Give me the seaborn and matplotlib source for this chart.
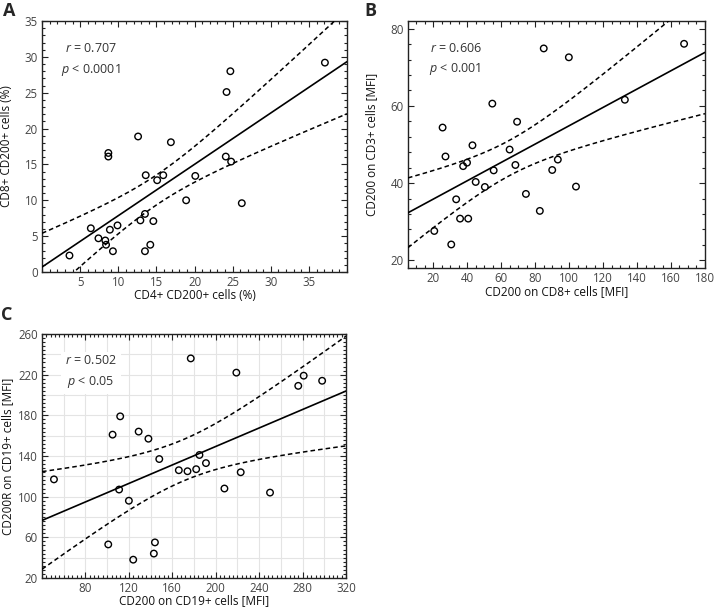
import numpy as np
import matplotlib
matplotlib.use("Agg")
import matplotlib.pyplot as plt
from matplotlib.ticker import MultipleLocator
import seaborn as sns

# panel A: CD4+ CD200+ vs CD8+ CD200+ (%)
a_x = [3.6, 6.4, 7.4, 8.3, 8.4, 8.9, 8.7, 8.7, 9.3, 9.9, 12.6, 12.9, 13.5, 13.5,
       13.6, 14.2, 14.6, 15.1, 15.9, 16.9, 18.9, 20.1, 24.2, 24.7, 24.1, 24.8, 26.2, 37.1]
a_y = [2.3, 6.1, 4.7, 4.4, 3.8, 5.9, 16.6, 16.1, 2.9, 6.5, 18.9, 7.2, 8.1, 2.9,
       13.5, 3.8, 7.1, 12.8, 13.5, 18.1, 10.0, 13.4, 25.1, 28.0, 16.1, 15.4, 9.6, 29.2]

# panel B: CD200 on CD8+ vs CD200 on CD3+ (MFI)
b_x = [20.5, 25.4, 27.1, 30.5, 33.4, 35.7, 37.5, 39.8, 40.5, 43.0, 44.9, 50.3, 54.7,
       55.5, 64.9, 68.3, 69.3, 74.5, 82.7, 85.0, 90.0, 93.3, 99.8, 104.0, 132.8, 167.7]
b_y = [27.6, 54.4, 46.9, 24.1, 35.8, 30.8, 44.4, 45.3, 30.8, 49.8, 40.3, 39.0, 60.6,
       43.3, 48.7, 44.7, 55.9, 37.2, 32.8, 74.9, 43.4, 46.1, 72.6, 39.1, 61.6, 76.1]

# panel C: CD200 on CD19+ vs CD200R on CD19+ (MFI)
c_x = [51, 101, 105, 111, 112, 120, 124, 129, 138, 143, 144, 148, 166, 174, 177,
       182, 185, 191, 208, 219, 223, 250, 276, 281, 298]
c_y = [117, 53, 161, 107, 179, 96, 38, 164, 157, 44, 55, 137, 126, 125, 236,
       127, 141, 133, 108, 222, 124, 104, 209, 219, 214]

labels_x = ["CD4+ CD200+ cells (%)", "CD200 on CD8+ cells [MFI]", "CD200 on CD19+ cells [MFI]"]
labels_y = ["CD8+ CD200+ cells (%)", "CD200 on CD3+ cells [MFI]", "CD200R on CD19+ cells [MFI]"]
stats = [("0.707", "0.0001"), ("0.606", "0.001"), ("0.502", "0.05")]

sns.set_theme(style="ticks")
plt.rcParams['font.family'] = ['Open Sans', 'DejaVu Sans']
plt.rcParams['mathtext.fontset'] = 'custom'
plt.rcParams['mathtext.it'] = 'Open Sans:italic'
plt.rcParams['mathtext.rm'] = 'Open Sans'

fig = plt.figure(figsize=(7.17, 6.15), dpi=100)
axA = fig.add_axes([0.0586, 0.5577, 0.4254, 0.4081])
axB = fig.add_axes([0.569, 0.5642, 0.4142, 0.4016])
axC = fig.add_axes([0.0586, 0.0602, 0.424, 0.3967])


def fit_band(ax, x, y, lo, hi):
    x = np.asarray(x, float)
    y = np.asarray(y, float)
    n = len(x)
    b, a = np.polyfit(x, y, 1)
    resid = y - (a + b * x)
    s = np.sqrt(np.sum(resid ** 2) / (n - 2))
    sxx = np.sum((x - x.mean()) ** 2)
    xs = np.linspace(lo, hi, 200)
    ys = a + b * xs
    t = 2.05 if n < 30 else 2.0
    half = t * s * np.sqrt(1.0 / n + (xs - x.mean()) ** 2 / sxx)
    ax.plot(xs, ys, color='black', lw=1.2, zorder=3)
    ax.plot(xs, ys + half, color='black', lw=1.1, ls=(0, (3, 2)), zorder=3)
    ax.plot(xs, ys - half, color='black', lw=1.1, ls=(0, (3, 2)), zorder=3)


panels = [
    (axA, a_x, a_y, (0, 40), (0, 35), 1, 1, np.arange(5, 36, 5), np.arange(0, 36, 5)),
    (axB, b_x, b_y, (5, 180), (18, 82), 5, 4, np.arange(20, 181, 20), np.arange(20, 81, 20)),
    (axC, c_x, c_y, (40, 320), (20, 260), 4, 4, np.arange(80, 321, 40), np.arange(20, 261, 40)),
]
ylab_x = [-0.095, -0.10, -0.092]
xlab_y = [-0.068, -0.07, -0.066]

for i, (ax, x, y, xl, yl, xm, ym, xt, yt) in enumerate(panels):
    ax.set_xlim(*xl)
    ax.set_ylim(*yl)
    if i == 2:
        for v in np.arange(60, 320, 20):
            ax.axvline(v, color='#e4e4e4', lw=0.8, zorder=0)
        for v in np.arange(40, 260, 20):
            ax.axhline(v, color='#e4e4e4', lw=0.8, zorder=0)
    fit_band(ax, x, y, xl[0], xl[1])
    sns.scatterplot(x=x, y=y, ax=ax, marker='o', s=22, facecolor='none',
                    edgecolor='black', linewidth=1.0, zorder=4)
    ax.set_xticks(xt)
    ax.set_yticks(yt)
    ax.xaxis.set_minor_locator(MultipleLocator(xm))
    ax.yaxis.set_minor_locator(MultipleLocator(ym))
    ax.tick_params(which='both', direction='in', top=True, right=True,
                   colors='#222222', labelcolor='#444444', labelsize=8.3, width=0.8, pad=3)
    ax.tick_params(which='major', length=4.5)
    ax.tick_params(which='minor', length=2.2)
    for sp in ax.spines.values():
        sp.set_color('#222222')
        sp.set_linewidth(1.0)
        sp.set_visible(True)
    ax.set_xlabel(labels_x[i], fontsize=8.5, color='#111111')
    ax.set_ylabel(labels_y[i], fontsize=8.5, color='#111111')
    ax.xaxis.set_label_coords(0.5, xlab_y[i])
    ax.yaxis.set_label_coords(ylab_x[i], 0.5)
    r, p = stats[i]
    txt = '$r$ = {}\n$p$ < {}'.format(r, p)
    box = dict(facecolor='white', edgecolor='none', pad=3) if i == 2 else None
    ax.text(0.16, 0.845, txt, transform=ax.transAxes, ha='center', va='center',
            multialignment='center', fontsize=9, color='#333333',
            linespacing=1.6, bbox=box, zorder=5)

fig.text(0.004, 0.997, 'A', fontsize=13, fontweight='bold', va='top', ha='left')
fig.text(0.508, 0.997, 'B', fontsize=13, fontweight='bold', va='top', ha='left')
fig.text(0.002, 0.502, 'C', fontsize=13, fontweight='bold', va='top', ha='left')

fig.savefig('out.png', dpi=100)
